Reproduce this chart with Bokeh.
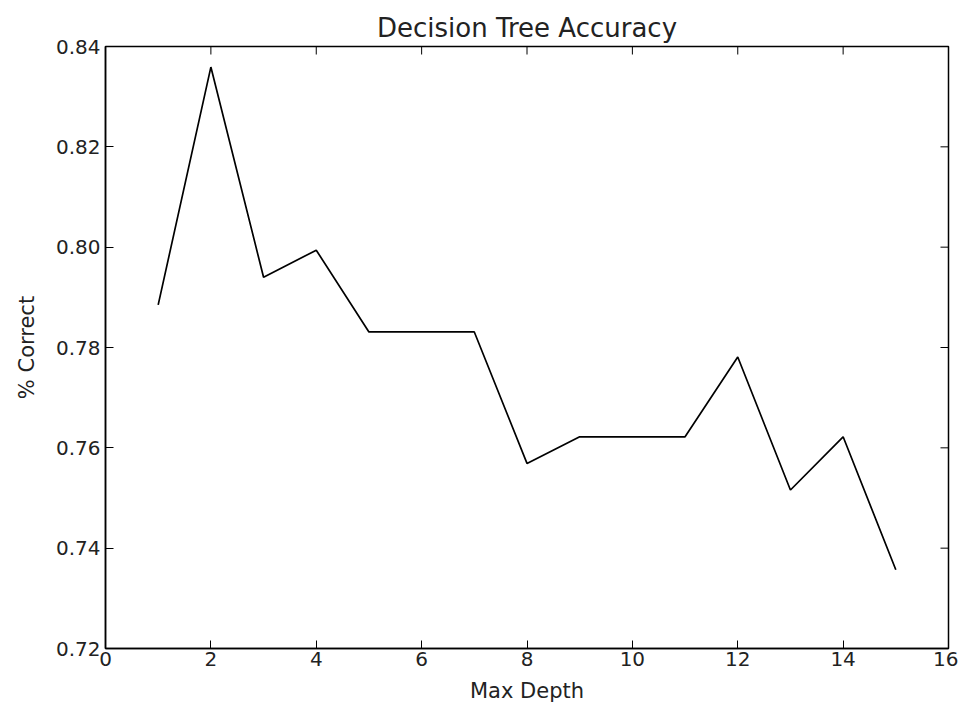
import math
from bokeh.plotting import figure
from bokeh.models import FixedTicker, Range1d, NumeralTickFormatter
from bokeh.embed import file_html
from bokeh.resources import INLINE

max_depth = [1, 2, 3, 4, 5, 6, 7, 8, 9, 10, 11, 12, 13, 14, 15]
accuracy = [0.7885, 0.8359, 0.7940, 0.7994, 0.7831, 0.7831, 0.7831, 0.7569,
            0.7622, 0.7622, 0.7622, 0.7781, 0.7516, 0.7622, 0.7357]
x_ticks = [0, 2, 4, 6, 8, 10, 12, 14, 16]
y_ticks = [0.72, 0.74, 0.76, 0.78, 0.80, 0.82, 0.84]
x_min, x_max = 0, 16
y_min, y_max = 0.72, 0.84

FONT = "DejaVu Sans"
TXT = "#222222"

p = figure(width=958, height=705, output_backend="svg", toolbar_location=None,
           x_range=Range1d(x_min, x_max), y_range=Range1d(y_min, y_max),
           title="Decision Tree Accuracy",
           x_axis_label="Max Depth", y_axis_label="% Correct",
           min_border_left=105, min_border_right=10, min_border_top=46,
           min_border_bottom=57)

p.line(max_depth, accuracy, line_color="black", line_width=1.7)

# inward ticks on top and right edges (matplotlib classic style)
p.ray(x=x_ticks, y=[y_max] * len(x_ticks), length=8, length_units="screen",
      angle=-math.pi / 2, line_color="black", line_width=1)
p.ray(x=[x_max] * len(y_ticks), y=y_ticks, length=8, length_units="screen",
      angle=math.pi, line_color="black", line_width=1)

p.grid.visible = False
p.outline_line_color = "black"
p.outline_line_width = 1.5

p.title.align = "center"
p.title.text_font = FONT
p.title.text_font_size = "26px"
p.title.text_font_style = "normal"
p.title.text_color = TXT
p.title.standoff = 7

for ax, ticks in ((p.xaxis[0], x_ticks), (p.yaxis[0], y_ticks)):
    ax.ticker = FixedTicker(ticks=ticks)
    ax.major_tick_in = 8
    ax.major_tick_out = 0
    ax.minor_tick_line_color = None
    ax.axis_line_color = "black"
    ax.axis_line_width = 1.5
    ax.major_tick_line_color = "black"
    ax.major_label_text_font = FONT
    ax.major_label_text_font_size = "20px"
    ax.major_label_text_color = TXT
    ax.axis_label_text_font = FONT
    ax.axis_label_text_font_size = "21px"
    ax.axis_label_text_font_style = "normal"
    ax.axis_label_text_color = TXT

p.yaxis[0].formatter = NumeralTickFormatter(format="0.00")
p.xaxis[0].major_label_standoff = 3
p.yaxis[0].major_label_standoff = 5
p.yaxis[0].axis_label_standoff = 14
p.xaxis[0].axis_label_standoff = 10

open("out.html", "w").write(file_html(p, INLINE))
